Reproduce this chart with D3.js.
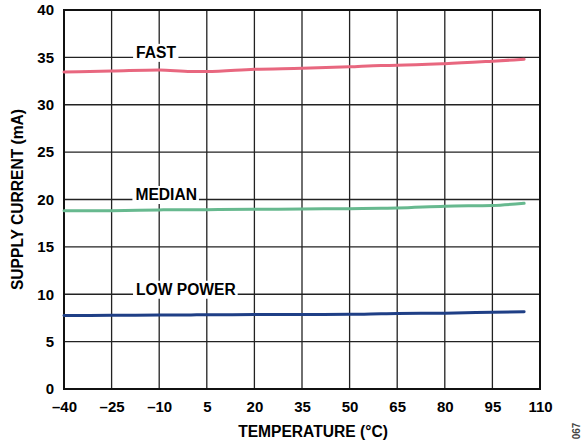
<!DOCTYPE html>
<html><head><meta charset="utf-8">
<script src="https://cdn.jsdelivr.net/npm/d3@7"></script>
<style>body{margin:0;background:#fff}svg{display:block}text{font-family:"Liberation Sans",Arial,sans-serif;font-weight:bold}</style>
</head><body>
<svg id="c" width="581" height="446"></svg>
<script>
const temps = [-40, -25, -10, 0, 5, 20, 35, 50, 60, 65, 80, 95, 105];
const fast = [33.46, 33.55, 33.67, 33.5, 33.5, 33.74, 33.85, 34.0, 34.15, 34.16, 34.33, 34.6, 34.8];
const median = [18.8, 18.82, 18.9, 18.93, 18.93, 18.96, 19.0, 19.03, 19.08, 19.1, 19.3, 19.37, 19.6];
const lowPower = [7.75, 7.78, 7.8, 7.82, 7.83, 7.85, 7.86, 7.88, 7.94, 7.97, 8.0, 8.1, 8.16];
const xTicks = [-40, -25, -10, 5, 20, 35, 50, 65, 80, 95, 110];
const yTicks = [0, 5, 10, 15, 20, 25, 30, 35, 40];
const seriesNames = ["FAST", "MEDIAN", "LOW POWER"];
const seriesColors = ["#e8677f", "#67b98f", "#1f3f86"];
const labelAt = [{t:-11, v:35}, {t:-7.8, v:20}, {t:-1.6, v:10}];

const svg = d3.select("#c");
const L=64, R=540, T=10, B=389;
const FS = 15, LFS = 15.6;
const x = d3.scaleLinear().domain([-40,110]).range([L,R]);
const y = d3.scaleLinear().domain([0,40]).range([B,T]);

const grid = svg.append("g");
xTicks.forEach(t=>grid.append("line").attr("x1",x(t)).attr("x2",x(t)).attr("y1",T).attr("y2",B).attr("stroke","#222").attr("stroke-width",1.3));
yTicks.forEach(t=>grid.append("line").attr("x1",L).attr("x2",R).attr("y1",y(t)).attr("y2",y(t)).attr("stroke","#222").attr("stroke-width",1.3));

const labG = svg.append("g");
seriesNames.forEach((n,k)=>{
  const g = labG.append("g");
  const bg = g.append("rect").attr("fill","#fff");
  const tx = g.append("text").attr("x",x(labelAt[k].t)).attr("y",y(labelAt[k].v)+0.5).attr("text-anchor","middle").attr("font-size",LFS).attr("fill","#000").text(n);
  const bb = tx.node().getBBox();
  bg.attr("x",bb.x-3).attr("y",bb.y).attr("width",bb.width+5).attr("height",bb.height+1);
});

svg.append("rect").attr("x",L).attr("y",T).attr("width",R-L).attr("height",B-T).attr("fill","none").attr("stroke","#111").attr("stroke-width",2);

const xa = svg.append("g").attr("transform",`translate(0,${B})`).call(d3.axisBottom(x).tickValues(xTicks).tickSize(0).tickPadding(12).tickFormat(d=>d<0?"\u2013"+Math.abs(d):d));
xa.select(".domain").remove();
xa.selectAll("text").attr("font-size",FS).attr("fill","#000").attr("font-family","Liberation Sans, Arial").attr("font-weight","bold");
const ya = svg.append("g").attr("transform",`translate(${L},0)`).call(d3.axisLeft(y).tickValues(yTicks).tickSize(0).tickPadding(10));
ya.select(".domain").remove();
ya.selectAll("text").attr("font-size",FS).attr("fill","#000").attr("font-family","Liberation Sans, Arial").attr("font-weight","bold");

const data = [fast, median, lowPower];
const line = d3.line().x((d,i)=>x(temps[i])).y(d=>y(d)).curve(d3.curveMonotoneX);
data.forEach((s,k)=>{
  svg.append("path").attr("d",line(s)).attr("fill","none").attr("stroke",seriesColors[k]).attr("stroke-width",3).attr("stroke-linecap","round");
});
svg.append("text").attr("x",313).attr("y",437).attr("text-anchor","middle").attr("font-size",LFS).text("TEMPERATURE (\u00b0C)");
svg.append("text").attr("transform",`translate(23,${(T+B)/2}) rotate(-90)`).attr("text-anchor","middle").attr("font-size",LFS).text("SUPPLY CURRENT (mA)");
svg.append("text").attr("transform","translate(580,431) rotate(-90)").attr("text-anchor","middle").attr("font-size",10).attr("font-weight","normal").attr("fill","#444").text("067");
</script>
</body></html>
